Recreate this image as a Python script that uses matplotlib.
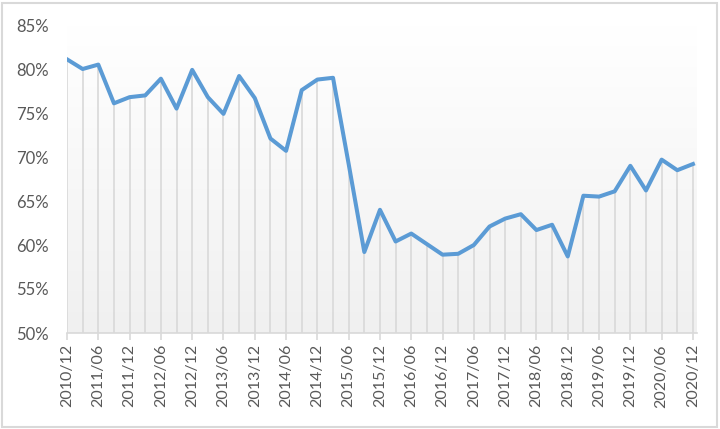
import numpy as np
import matplotlib

matplotlib.use("Agg")
import matplotlib.pyplot as plt
from matplotlib.colors import LinearSegmentedColormap
from matplotlib.patches import Rectangle
from matplotlib.ticker import FuncFormatter

plt.rcParams["font.family"] = ["Lato", "DejaVu Sans"]

# quarterly ratio, 2010/12 .. 2020/12
quarters = [
    f"{y}/{m:02d}" for y in range(2010, 2021) for m in (3, 6, 9, 12)
][3:]
ratio = [
    81.1, 80.0, 80.5, 76.1, 76.8, 77.0, 78.9, 75.5, 79.9, 76.8,
    74.9, 79.2, 76.7, 72.1, 70.7, 77.6, 78.8, 79.0, 69.2, 59.2,
    64.0, 60.4, 61.3, 60.1, 58.9, 59.0, 60.0, 62.1, 63.0, 63.5,
    61.7, 62.3, 58.7, 65.6, 65.5, 66.1, 69.0, 66.2, 69.7, 68.5,
    69.2,
]
y_ticks = [50, 55, 60, 65, 70, 75, 80, 85]

LINE = "#5B9BD5"
GRID = "#D9D9D9"
TEXT = "#595959"

x = np.arange(len(ratio))
vals = np.array(ratio) / 100
x_max = len(ratio) - 1 + 0.26

fig = plt.figure(figsize=(7.2, 4.29), dpi=100)
fig.patches.append(
    Rectangle((2 / 720, 2 / 429), 715 / 720, 424 / 429, transform=fig.transFigure,
              fill=False, edgecolor=GRID, lw=1.5)
)
ax = fig.add_axes([67 / 720, 96 / 429, (697 - 67) / 720, (333 - 25) / 429])
ax.set_facecolor("none")

# plot-area gradient, white at the top to light grey at the bottom
grad = np.linspace(0, 1, 256).reshape(-1, 1)
cmap = LinearSegmentedColormap.from_list("bg", ["#FFFFFF", "#F0F0F0"])
ax.imshow(grad, cmap=cmap, aspect="auto", extent=[0, x_max, 0.50, 0.85],
          origin="upper", zorder=0)

ax.vlines(x, 0.50, vals, color=GRID, lw=1.2, zorder=1)
ax.plot(x, vals, color=LINE, lw=2.9, solid_joinstyle="round", zorder=3)

ax.set_xlim(0, x_max)
ax.set_ylim(0.50, 0.85)
ax.set_yticks([t / 100 for t in y_ticks])
ax.yaxis.set_major_formatter(FuncFormatter(lambda v, _: f"{v:.0%}"))
ax.set_xticks(x[::2])
ax.set_xticklabels(quarters[::2], rotation=90)

for side in ("top", "right", "left"):
    ax.spines[side].set_visible(False)
ax.spines["bottom"].set_color(GRID)
ax.spines["bottom"].set_linewidth(1.2)
ax.tick_params(axis="y", length=0, pad=13, labelsize=12, labelcolor=TEXT)
ax.tick_params(axis="x", length=5, width=1.2, color=GRID, pad=3,
               labelsize=11.5, labelcolor=TEXT)

fig.savefig("out.png", dpi=100)
